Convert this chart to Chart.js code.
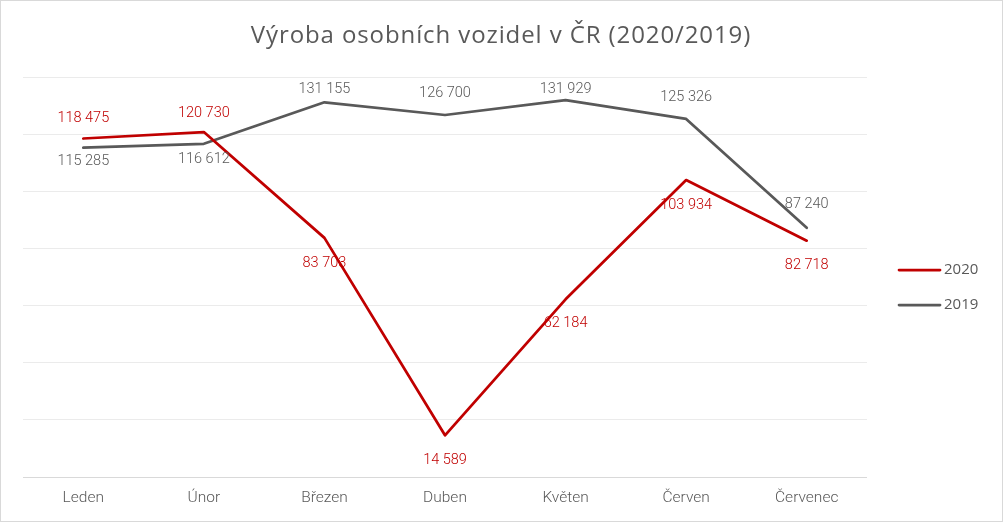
<!DOCTYPE html>
<html>
<head>
<meta charset="utf-8">
<script src="https://cdn.jsdelivr.net/npm/chart.js@4/dist/chart.umd.min.js"></script>
<style>
  html, body { margin: 0; padding: 0; background: #fff; }
  canvas { display: block; }
</style>
</head>
<body>
<canvas id="myChart" width="1003" height="522"></canvas>
<script>
const months = ["Leden", "Únor", "Březen", "Duben", "Květen", "Červen", "Červenec"];
const values2020 = [118475, 120730, 83703, 14589, 62184, 103934, 82718];
const values2019 = [115285, 116612, 131155, 126700, 131929, 125326, 87240];
const chartTitle = "Výroba osobních vozidel v ČR (2020/2019)";

const RED = "#c00000";
const GREY = "#595959";

// décalage vertical des étiquettes (px, par rapport au point)
const labelDy2020 = [-20, -19, 26, 25, 24, 25, 25];
const labelDy2019 = [14, 16, -13, -22, -11, -22, -23];

function fmt(n) {
  return String(n).replace(/\B(?=(\d{3})+(?!\d))/g, " ");
}

const decorPlugin = {
  id: "decor",
  beforeDraw(chart) {
    const c = chart.ctx;
    c.save();
    c.fillStyle = "#fff";
    c.fillRect(0, 0, chart.width, chart.height);
    c.restore();
  },
  afterDraw(chart) {
    const c = chart.ctx;
    c.save();
    // cadre
    c.strokeStyle = "#d9d9d9";
    c.lineWidth = 1;
    c.strokeRect(0.5, 0.5, chart.width - 1, chart.height - 1);

    // titre
    c.fillStyle = GREY;
    c.font = "24px 'Open Sans'";
    c.letterSpacing = "0.9px";
    c.textAlign = "center";
    c.textBaseline = "alphabetic";
    c.fillText(chartTitle, 501, 43);
    c.letterSpacing = "0px";

    // étiquettes de données
    c.font = "300 14.5px Roboto";
    c.textBaseline = "middle";
    const dys = [labelDy2020, labelDy2019];
    chart.data.datasets.forEach((ds, i) => {
      const meta = chart.getDatasetMeta(i);
      c.fillStyle = ds.borderColor;
      meta.data.forEach((pt, j) => {
        c.fillText(fmt(ds.data[j]), pt.x, pt.y + dys[i][j]);
      });
    });

    // légende
    c.font = "15px 'Open Sans'";
    c.textAlign = "left";
    chart.data.datasets.forEach((ds, i) => {
      const y = 270 + i * 35;
      c.strokeStyle = ds.borderColor;
      c.lineWidth = 2.75;
      c.lineCap = "round";
      c.beginPath();
      c.moveTo(899, y);
      c.lineTo(940, y);
      c.stroke();
      c.fillStyle = GREY;
      c.fillText(ds.label, 944, y);
    });
    c.restore();
  }
};

const ctx = document.getElementById("myChart").getContext("2d");
new Chart(ctx, {
  type: "line",
  data: {
    labels: months,
    datasets: [
      {
        label: "2020",
        data: values2020,
        borderColor: RED,
        backgroundColor: RED,
        borderWidth: 2.75,
        pointRadius: 0,
        tension: 0,
        borderJoinStyle: "round",
        borderCapStyle: "round",
      },
      {
        label: "2019",
        data: values2019,
        borderColor: GREY,
        backgroundColor: GREY,
        borderWidth: 2.75,
        pointRadius: 0,
        tension: 0,
        borderJoinStyle: "round",
        borderCapStyle: "round",
      },
    ],
  },
  options: {
    responsive: false,
    animation: false,
    devicePixelRatio: 1,
    layout: { padding: { left: 23, right: 136, top: 77, bottom: 0 } },
    plugins: {
      legend: { display: false },
      title: { display: false },
      tooltip: { enabled: false },
    },
    scales: {
      x: {
        offset: true,
        grid: { display: false, drawTicks: false },
        border: { display: false },
        ticks: {
          color: GREY,
          font: { family: "Roboto", size: 15.5, weight: 300 },
          padding: 12,
          maxRotation: 0,
        },
        afterFit: (s) => { s.height = 45; },
      },
      y: {
        min: 0,
        max: 140000,
        grid: {
          drawTicks: false,
          color: (c) => (c.tick && c.tick.value === 0 ? "#d9d9d9" : "#ebebeb"),
          lineWidth: 1,
        },
        border: { display: false },
        ticks: { display: false, stepSize: 20000 },
        afterFit: (s) => { s.width = 0; },
      },
    },
  },
  plugins: [decorPlugin],
});
</script>
</body>
</html>
